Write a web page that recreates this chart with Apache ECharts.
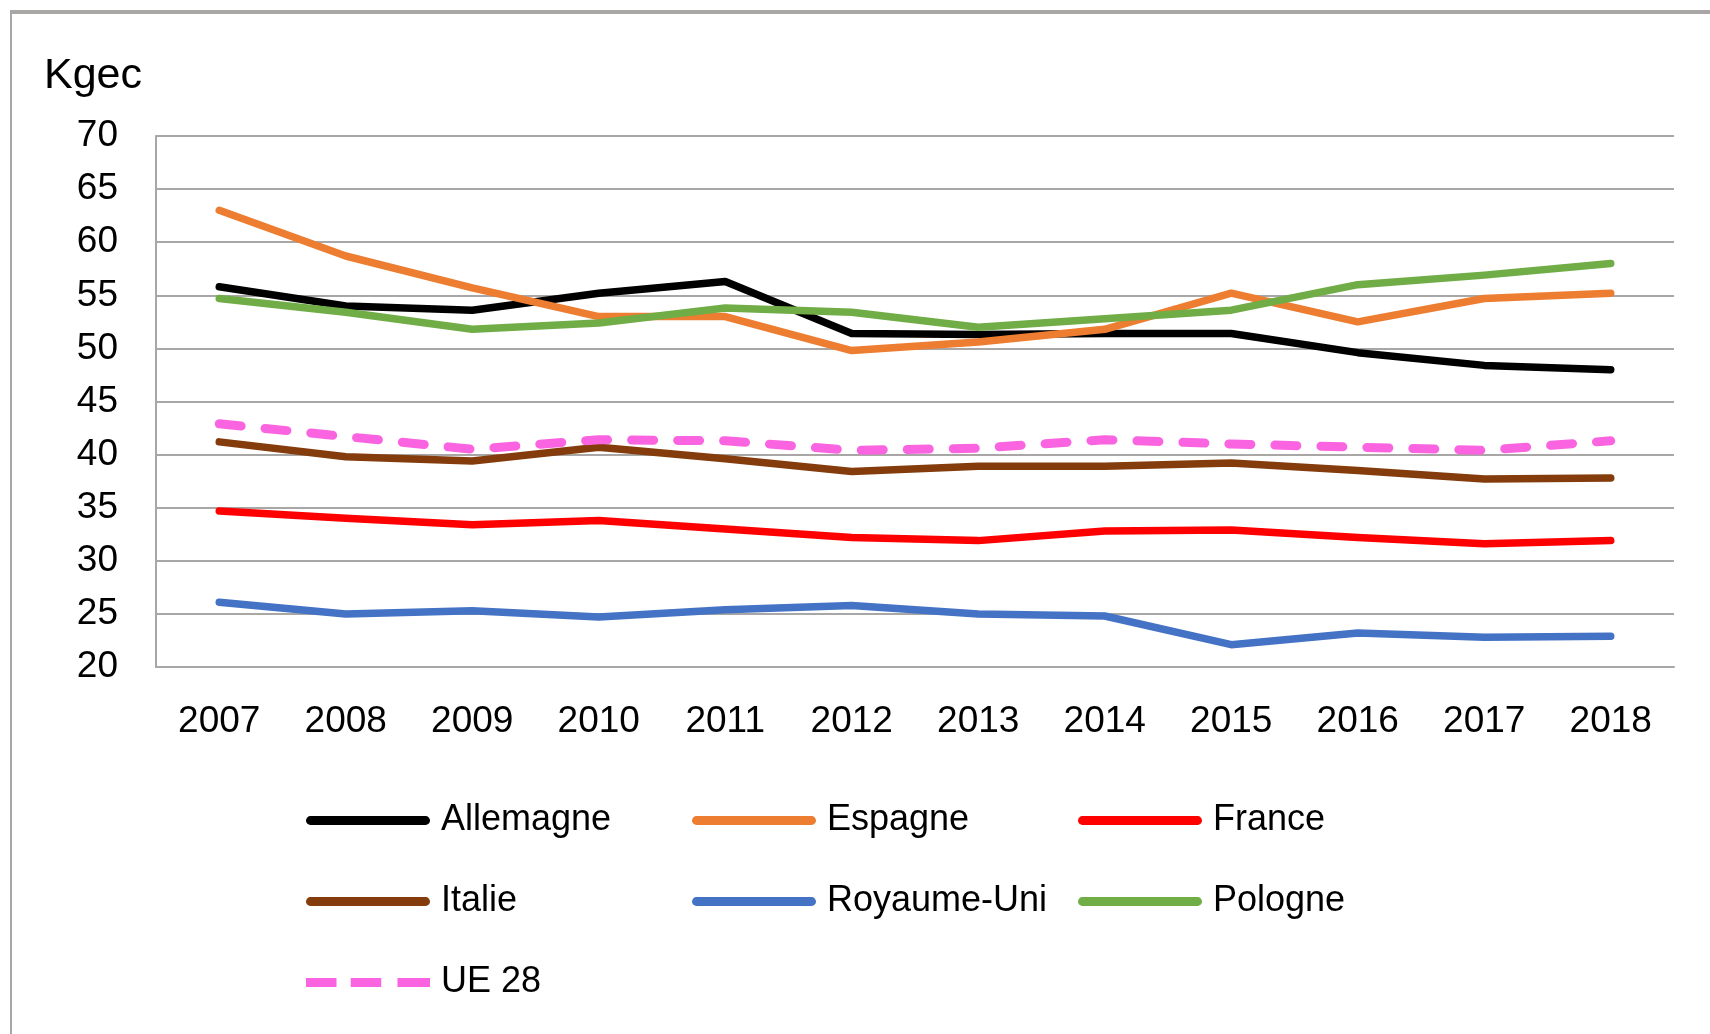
<!DOCTYPE html>
<html>
<head>
<meta charset="utf-8">
<style>
  html, body { margin: 0; padding: 0; background: #fff; }
  #chart { width: 1710px; height: 1034px; }
</style>
<script src="https://cdn.jsdelivr.net/npm/echarts@6/dist/echarts.min.js"></script>
</head>
<body>
<div id="chart"></div>
<script>
// données (kgec)
var years = ['2007', '2008', '2009', '2010', '2011', '2012', '2013', '2014', '2015', '2016', '2017', '2018'];
var allemagne = [55.8, 54.0, 53.6, 55.2, 56.3, 51.4, 51.3, 51.4, 51.4, 49.6, 48.4, 48.0];
var espagne = [63.0, 58.7, 55.7, 53.0, 53.0, 49.8, 50.6, 51.8, 55.2, 52.5, 54.7, 55.2];
var france = [34.7, 34.0, 33.4, 33.8, 33.0, 32.2, 31.9, 32.8, 32.9, 32.2, 31.6, 31.9];
var italie = [41.2, 39.8, 39.4, 40.7, 39.6, 38.4, 38.9, 38.9, 39.2, 38.5, 37.7, 37.8];
var royaumeUni = [26.1, 25.0, 25.3, 24.7, 25.4, 25.8, 25.0, 24.8, 22.1, 23.2, 22.8, 22.9];
var pologne = [54.7, 53.4, 51.8, 52.4, 53.8, 53.4, 52.0, 52.8, 53.6, 56.0, 56.9, 58.0];
var ue28 = [42.9, 41.7, 40.5, 41.4, 41.3, 40.4, 40.6, 41.4, 41.0, 40.7, 40.4, 41.3];
var yTicks = [20, 25, 30, 35, 40, 45, 50, 55, 60, 65, 70];

var FONT = 'Liberation Sans';
var GRID_COLOR = '#a9a6a6';
var SOLID_ICON = 'path://M2,0H120A2,2 0 0 1 120,9H2A2,2 0 0 1 2,0Z';
var DASH_ICON = 'path://M0,0H30V9H0Z M44,0H74V9H44Z M90,0H122V9H90Z';

function mkLine(name, data, color, dashed) {
    return {
        name: name,
        type: 'line',
        data: data,
        symbol: 'none',
        smooth: false,
        lineStyle: {
            color: color,
            width: dashed ? 9 : 7.5,
            type: dashed ? [22, 24] : 'solid',
            cap: 'round',
            join: 'round'
        },
        itemStyle: { color: color },
        animation: false
    };
}

var chart = echarts.init(document.getElementById('chart'));

chart.setOption({
    backgroundColor: '#ffffff',
    textStyle: { fontFamily: FONT },
    title: {
        text: 'Kgec',
        left: 39,
        top: 50,
        textStyle: { fontFamily: FONT, fontSize: 43, fontWeight: 'normal', color: '#000' }
    },
    graphic: [
        {
            type: 'rect',
            shape: { x: 11, y: 12, width: 1720, height: 1040 },
            style: { fill: null, stroke: GRID_COLOR, lineWidth: 2 },
            silent: true
        },
        {
            type: 'line',
            shape: { x1: 10, y1: 12, x2: 1710, y2: 12 },
            style: { stroke: GRID_COLOR, lineWidth: 4 },
            silent: true
        }
    ],
    grid: {
        left: 156,
        right: 36,
        top: 136,
        height: 531
    },
    xAxis: {
        type: 'category',
        data: years,
        boundaryGap: true,
        axisLine: { show: true, lineStyle: { color: GRID_COLOR, width: 2 } },
        axisTick: { show: false },
        axisLabel: { fontFamily: FONT, fontSize: 37, color: '#000', margin: 36, interval: 0 }
    },
    yAxis: {
        type: 'value',
        min: yTicks[0],
        max: yTicks[yTicks.length - 1],
        interval: 5,
        axisLine: { show: true, lineStyle: { color: GRID_COLOR, width: 2 } },
        axisTick: { show: false },
        splitLine: { lineStyle: { color: GRID_COLOR, width: 2 } },
        axisLabel: { fontFamily: FONT, fontSize: 37, color: '#000', margin: 38 }
    },
    legend: {
        left: 301,
        top: 775,
        width: 1180,
        orient: 'horizontal',
        itemGap: 0,
        itemWidth: 124,
        itemHeight: 10,
        icon: SOLID_ICON,
        data: [
            { name: 'Allemagne' },
            { name: 'Espagne' },
            { name: 'France' },
            { name: 'Italie' },
            { name: 'Royaume-Uni' },
            { name: 'Pologne' },
            { name: 'UE 28', icon: DASH_ICON }
        ],
        textStyle: {
            fontFamily: FONT,
            fontSize: 36,
            color: '#000',
            width: 251,
            lineHeight: 81,
            padding: [0, 0, 0, 6]
        }
    },
    series: [
        mkLine('Allemagne', allemagne, '#000000', false),
        mkLine('Espagne', espagne, '#ED7D31', false),
        mkLine('France', france, '#FF0000', false),
        mkLine('Italie', italie, '#843C0C', false),
        mkLine('Royaume-Uni', royaumeUni, '#4472C4', false),
        mkLine('Pologne', pologne, '#70AD47', false),
        mkLine('UE 28', ue28, '#FA64E0', true)
    ]
});
</script>
</body>
</html>
